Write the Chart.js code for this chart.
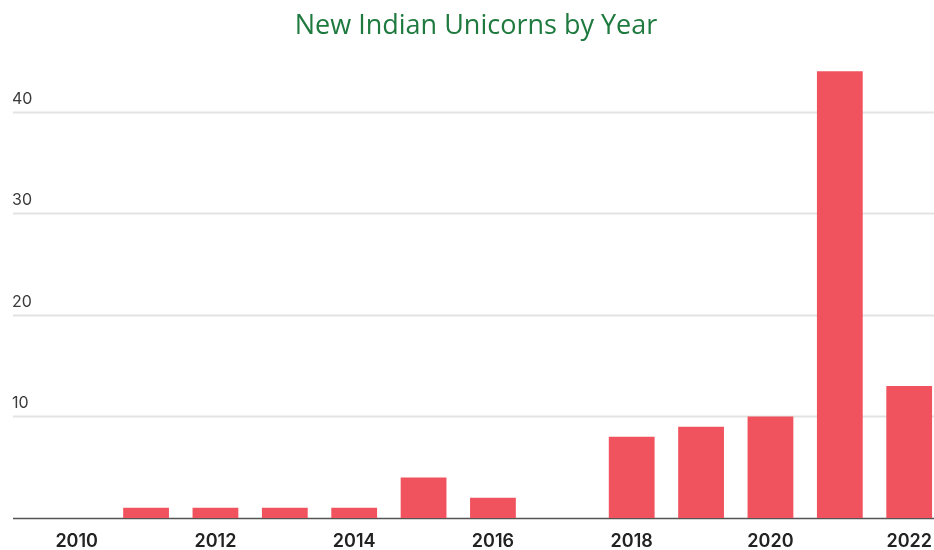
<!DOCTYPE html>
<html>
<head>
<meta charset="utf-8">
<script src="https://cdn.jsdelivr.net/npm/chart.js@4/dist/chart.umd.min.js"></script>
<style>
  html, body { margin: 0; padding: 0; background: #fff; overflow: hidden; }
  #wrap { width: 947px; height: 568px; position: relative; }
  #title {
    position: absolute; left: 0; top: 8px; width: 934px;
    text-align: center; color: #1e7a3e;
    font: 27px "Open Sans", "Noto Sans", sans-serif;
    line-height: 32px;
    padding-left: 18px; box-sizing: border-box;
  }
</style>
</head>
<body>
<div id="wrap">
  <div id="title">New Indian Unicorns by Year</div>
  <canvas id="chart"></canvas>
</div>
<script>
// values
const years = ["2010", "2011", "2012", "2013", "2014", "2015", "2016", "2017", "2018", "2019", "2020", "2021", "2022"];
const newUnicorns = [0, 1, 1, 1, 1, 4, 2, 0, 8, 9, 10, 44, 13];
const yTicks = [10, 20, 30, 40];

const BAR_COLOR = "#f0535d";
const GRID_COLOR = "#e3e3e3";

// Grid lines + y labels reach further left than the plot area in the original,
// so they are drawn here from the y scale instead of by the axis itself.
const leftGrid = {
  id: "leftGrid",
  beforeDatasetsDraw(chart) {
    const { ctx, scales: { y } } = chart;
    ctx.save();
    ctx.font = "16px Inter, 'Noto Sans', sans-serif";
    ctx.fillStyle = "#3a3a3a";
    ctx.textAlign = "left";
    ctx.textBaseline = "alphabetic";
    for (const v of yTicks) {
      const py = Math.round(y.getPixelForValue(v)) + 0.5;
      ctx.strokeStyle = GRID_COLOR;
      ctx.lineWidth = 2;
      ctx.beginPath();
      ctx.moveTo(13, py);
      ctx.lineTo(chart.width, py);
      ctx.stroke();
      ctx.fillText(String(v), 12, py - 9);
    }
    // baseline
    const by = Math.round(y.getPixelForValue(0)) + 0.5;
    ctx.strokeStyle = "#555";
    ctx.lineWidth = 1.5;
    ctx.beginPath();
    ctx.moveTo(13, by);
    ctx.lineTo(chart.width, by);
    ctx.stroke();
    ctx.restore();
  }
};

new Chart(document.getElementById("chart"), {
  type: "bar",
  data: {
    labels: years,
    datasets: [{
      data: newUnicorns,
      backgroundColor: BAR_COLOR,
      borderWidth: 0,
      categoryPercentage: 1,
      barPercentage: 0.66,
    }],
  },
  options: {
    responsive: true,
    maintainAspectRatio: false,
    animation: false,
    layout: { padding: { left: 42, right: 1, top: 51, bottom: 2 } },
    plugins: {
      legend: { display: false },
      tooltip: { enabled: false },
    },
    scales: {
      x: {
        grid: { display: false, drawTicks: false },
        border: { display: false },
        ticks: {
          color: "#222",
          font: { family: "Inter, Roboto, sans-serif", size: 18, weight: "600", lineHeight: 1 },
          padding: 15,
          maxRotation: 0,
          autoSkip: false,
          callback: (v, i) => (i % 2 === 0 ? years[i] : ""),
        },
      },
      y: {
        display: false,
        min: 0,
        max: 46,
      },
    },
  },
  plugins: [leftGrid],
});
</script>
</body>
</html>
